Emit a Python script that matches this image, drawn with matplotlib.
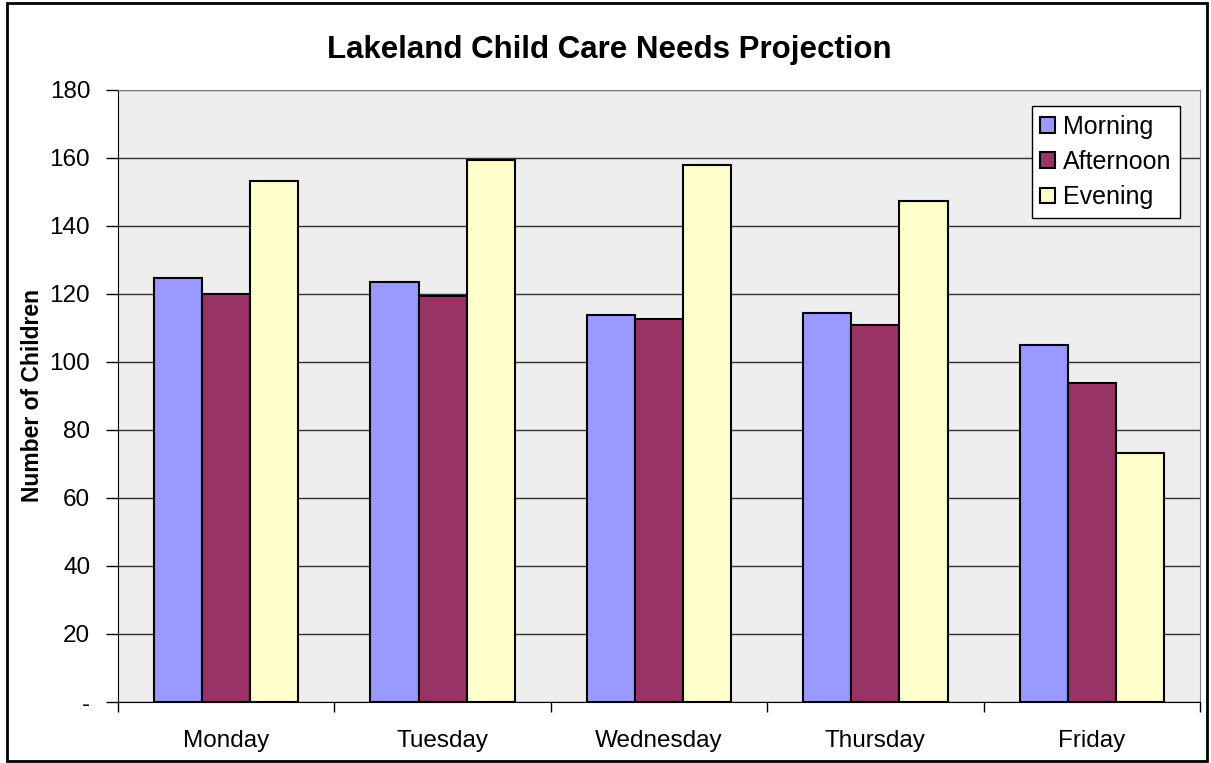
import matplotlib.pyplot as plt
import numpy as np
from matplotlib.patches import Rectangle

days = ["Monday", "Tuesday", "Wednesday", "Thursday", "Friday"]
morning = [124.8, 123.5, 113.7, 114.3, 105.0]
afternoon = [120.0, 119.5, 112.6, 110.9, 93.9]
evening = [153.1, 159.4, 157.8, 147.4, 73.1]
series_names = ["Morning", "Afternoon", "Evening"]
y_ticks = [0, 20, 40, 60, 80, 100, 120, 140, 160, 180]
y_tick_labels = ["-", "20", "40", "60", "80", "100", "120", "140", "160", "180"]

plt.rcParams["font.family"] = ["Liberation Sans", "DejaVu Sans"]

fig = plt.figure(figsize=(12.11, 7.63), dpi=100)
ax = fig.add_axes([118 / 1211, 61 / 763, 1082 / 1211, 612 / 763])
ax.set_facecolor("#EEEEEE")
ax.set_axisbelow(True)

# outer chart frame
fig.patches.append(Rectangle((7 / 1211, 2 / 763), 1200 / 1211, 758 / 763,
                             transform=fig.transFigure, fill=False,
                             edgecolor="black", lw=2))

x = np.arange(len(days))
w = 1 / 4.5
colors = ["#9999FF", "#993366", "#FFFFCC"]
for i, (vals, name) in enumerate(zip([morning, afternoon, evening], series_names)):
    ax.bar(x + (i - 1) * w, vals, width=w, color=colors[i], edgecolor="black",
           lw=1.5, label=name)

ax.set_xlim(-0.5, len(days) - 0.5)
ax.set_ylim(0, 180)
ax.set_yticks(y_ticks)
ax.set_yticklabels(y_tick_labels, fontsize=17.5)
ax.yaxis.grid(color="#333333", lw=1)
ax.tick_params(axis="y", length=9, width=1, pad=11)

ax.set_xticks(x)
ax.set_xticklabels(days, fontsize=17.5)
ax.tick_params(axis="x", length=0, pad=20)
ax.set_xticks(np.arange(len(days) + 1) - 0.5, minor=True)
ax.tick_params(axis="x", which="minor", length=7, width=1)

for s in ["top", "right"]:
    ax.spines[s].set_color("#808080")
ax.spines["left"].set_color("black")
ax.spines["bottom"].set_color("black")

ax.set_ylabel("Number of Children", fontsize=16.5, fontweight="bold", labelpad=4)
fig.text(609 / 1211, 1 - 50 / 763, "Lakeland Child Care Needs Projection",
         ha="center", va="center", fontsize=22.5, fontweight="bold")

leg = ax.legend(loc="upper right", bbox_to_anchor=(1180 / 1211, 1 - 106 / 763),
                bbox_transform=fig.transFigure, fontsize=18, frameon=True,
                fancybox=False, edgecolor="black", framealpha=1,
                handlelength=0.6, handleheight=0.6, handletextpad=0.3,
                borderpad=0.35, labelspacing=0.45, borderaxespad=0)
leg.get_frame().set_linewidth(1)

fig.savefig("out.png", dpi=100)
